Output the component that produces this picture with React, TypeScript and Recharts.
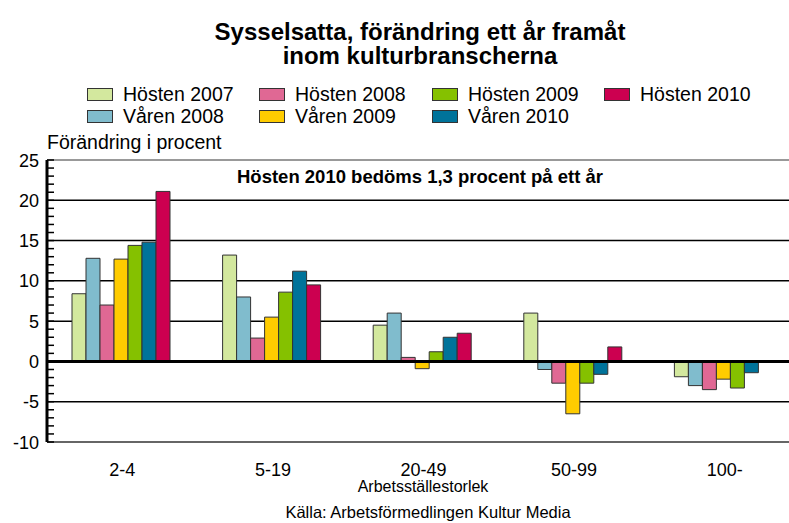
import { BarChart, Bar, XAxis, YAxis, CartesianGrid, ReferenceLine } from 'recharts';

const sizes = ['2-4', '5-19', '20-49', '50-99', '100-'];

const hosten2007 = [8.4, 13.2, 4.5, 6.0, -1.9];
const varen2008 = [12.8, 8.0, 6.0, -1.0, -3.0];
const hosten2008 = [7.0, 2.9, 0.5, -2.7, -3.5];
const varen2009 = [12.7, 5.5, -0.9, -6.5, -2.2];
const hosten2009 = [14.4, 8.6, 1.2, -2.7, -3.3];
const varen2010 = [14.8, 11.2, 3.0, -1.6, -1.4];
const hosten2010 = [21.1, 9.5, 3.5, 1.8, null];

const seriesNames = ['Hösten 2007', 'Våren 2008', 'Hösten 2008', 'Våren 2009', 'Hösten 2009', 'Våren 2010', 'Hösten 2010'];
const seriesValues = [hosten2007, varen2008, hosten2008, varen2009, hosten2009, varen2010, hosten2010];
const COLORS = ['#d3e89e', '#80bccd', '#e06894', '#ffcc00', '#85c100', '#00739a', '#cc0050'];

const majorTicks = [-10, -5, 0, 5, 10, 15, 20, 25];
const gridValues = [-5, 5, 10, 15, 20];

const FONT = '"Liberation Sans", Arial, sans-serif';

const data = sizes.map((size, i) => {
  const row: Record<string, string | number | null> = { size };
  seriesNames.forEach((name, s) => {
    row[name] = seriesValues[s][i];
  });
  return row;
});

// every whole percent gets a small tick, labels only on the major ones
const allTicks: number[] = [];
for (let v = majorTicks[0]; v <= majorTicks[majorTicks.length - 1]; v++) allTicks.push(v);

function YTick(props: any) {
  const { x, y, payload } = props;
  const v = payload.value as number;
  return (
    <g>
      <line x1={x} x2={x + 7} y1={y} y2={y} stroke="#000" strokeWidth={1.5} />
      {v % 5 === 0 && (
        <text x={x - 8} y={y} dy={6.5} textAnchor="end" fontSize={18} fill="#000" fontFamily={FONT}>
          {v}
        </text>
      )}
    </g>
  );
}

// legend is laid out column-wise: Hösten on top, Våren below
const legendCols = [
  [0, 1],
  [2, 3],
  [4, 5],
  [6],
];
const legendX = [87, 259, 432, 604];

export default function App() {
  return (
    <div
      style={{
        position: 'absolute',
        left: 0,
        top: 0,
        width: 789,
        height: 523,
        overflow: 'hidden',
        background: '#fff',
        fontFamily: FONT,
        color: '#000',
      }}
    >
      <div
        style={{
          position: 'absolute',
          left: 0,
          top: 20,
          width: 840,
          textAlign: 'center',
          fontWeight: 'bold',
          fontSize: 24,
          lineHeight: '24px',
        }}
      >
        Sysselsatta, förändring ett år framåt
        <br />
        inom kulturbranscherna
      </div>

      {legendCols.map((col, c) =>
        col.map((s, r) => (
          <div
            key={s}
            style={{
              position: 'absolute',
              left: legendX[c],
              top: 84 + r * 22,
              height: 21,
              display: 'flex',
              alignItems: 'center',
              whiteSpace: 'nowrap',
              fontSize: 19.5,
              lineHeight: '21px',
            }}
          >
            <span
              style={{
                display: 'inline-block',
                width: 24,
                height: 11,
                background: COLORS[s],
                border: '1px solid #333',
                marginRight: 10,
              }}
            />
            {seriesNames[s]}
          </div>
        ))
      )}

      <div style={{ position: 'absolute', left: 47, top: 131, fontSize: 19.5, lineHeight: '22px', whiteSpace: 'nowrap' }}>
        Förändring i procent
      </div>

      <div style={{ position: 'absolute', left: 0, top: 167, width: 840, textAlign: 'center', fontWeight: 'bold', fontSize: 18.5, lineHeight: '20px' }}>
        Hösten 2010 bedöms 1,3 procent på ett år
      </div>

      <div style={{ position: 'absolute', left: 0, top: 478, width: 846, textAlign: 'center', fontSize: 16, lineHeight: '18px' }}>
        Arbetsställestorlek
      </div>
      <div style={{ position: 'absolute', left: 0, top: 503, width: 856, textAlign: 'center', fontSize: 16.5, lineHeight: '18px' }}>
        Källa: Arbetsförmedlingen Kultur Media
      </div>

      <div style={{ position: 'absolute', left: 0, top: 0 }}>
        <BarChart
          width={805}
          height={523}
          data={data}
          margin={{ top: 160, right: 5, bottom: 51, left: 0 }}
          barGap={0}
          barCategoryGap={25}
        >
          <CartesianGrid vertical={false} horizontalValues={gridValues} stroke="#000" strokeWidth={1.5} />
          <XAxis
            dataKey="size"
            height={30}
            tickLine={false}
            tickSize={0}
            tickMargin={21}
            axisLine={false}
            tick={{ fontSize: 18, fill: '#000', fontFamily: FONT }}
          />
          <YAxis
            width={47}
            domain={[majorTicks[0], majorTicks[majorTicks.length - 1]]}
            ticks={allTicks}
            interval={0}
            tickLine={false}
            tickSize={0}
            tickMargin={0}
            axisLine={{ stroke: '#000', strokeWidth: 3 }}
            tick={<YTick />}
          />
          {seriesNames.map((name, s) => (
            <Bar key={name} dataKey={name} fill={COLORS[s]} stroke="#333" strokeWidth={1} isAnimationActive={false} />
          ))}
          <ReferenceLine y={0} stroke="#000" strokeWidth={3} />
          <ReferenceLine y={majorTicks[majorTicks.length - 1]} stroke="#999" strokeWidth={2} />
          <ReferenceLine y={majorTicks[0]} stroke="#666" strokeWidth={2} />
        </BarChart>
      </div>
    </div>
  );
}
